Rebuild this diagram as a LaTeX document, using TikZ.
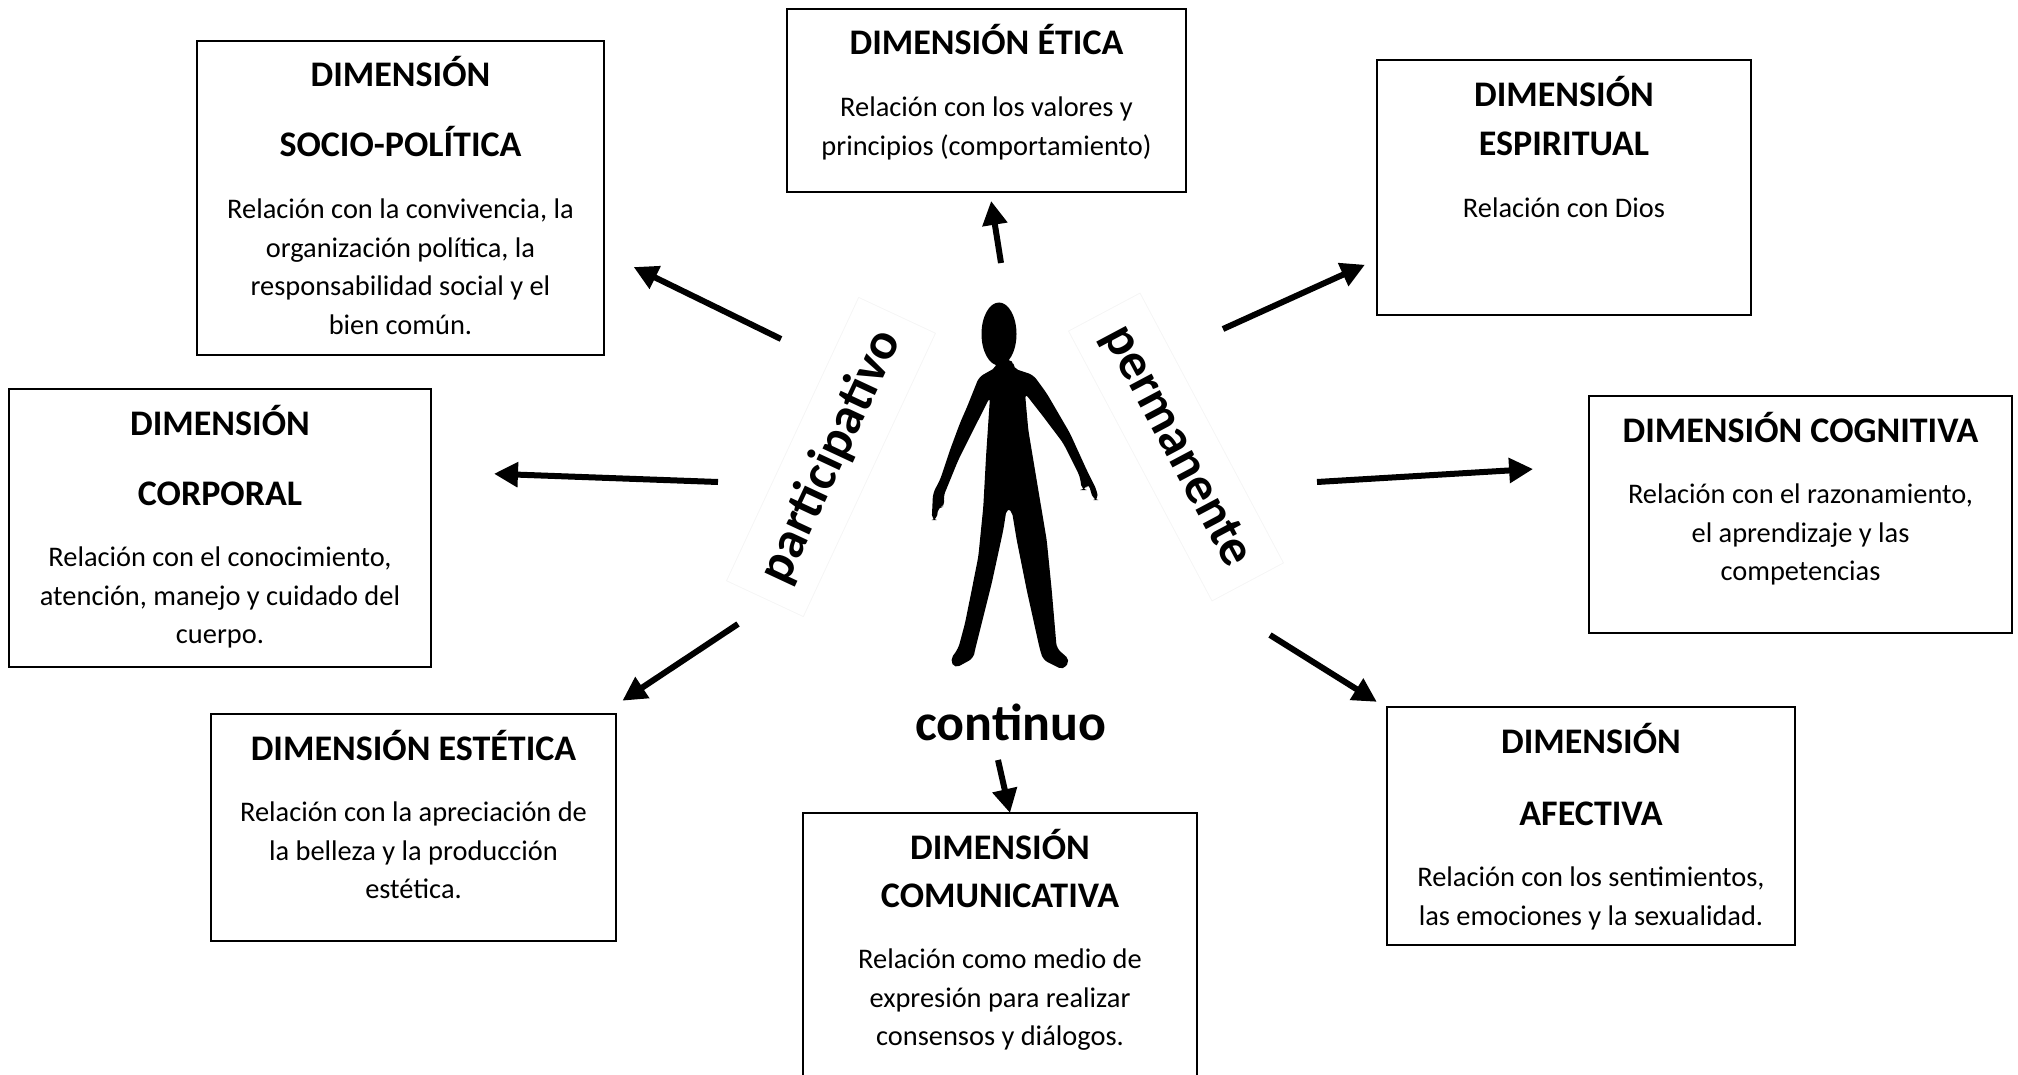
\documentclass[tikz,border=0pt]{standalone}
\usepackage{fontspec}
\setmainfont{Carlito}
\usetikzlibrary{arrows.meta}

% width, height, title line skip, title, body
\newcommand{\dimtexto}[5]{\begin{minipage}[c][#2][t]{#1}\centering
\fontsize{18}{#3}\selectfont\bfseries\rule{0pt}{23pt}#4\par
\vspace{11.5pt}
\fontsize{14.2}{19.3}\selectfont\mdseries #5\par
\end{minipage}}

\begin{document}
\begin{tikzpicture}[x=0.5pt,y=0.5pt,yscale=-1,xscale=1,
  caja/.style={draw, line width=0.6pt, inner sep=0pt, outer sep=0pt},
  flecha/.style={-{Triangle[length=12pt,width=12pt]}, line width=3pt},
  etiqueta/.style={font=\fontsize{26}{26}\selectfont\bfseries, draw=black!4, inner sep=10pt}]
\useasboundingbox (0,0) rectangle (2018,1075);

% Text Node
\node[caja] (socio) at (400.5,198) {\dimtexto{203.5pt}{157pt}{35pt}{DIMENSIÓN\\SOCIO-POLÍTICA}{Relación con la convivencia, la\\organización política, la\\responsabilidad social y el\\bien común.}};
% Text Node
\node[caja] (etica) at (986.5,100.5) {\dimtexto{199.5pt}{91.5pt}{24pt}{DIMENSIÓN ÉTICA}{Relación con los valores y\\principios (comportamiento)}};
% Text Node
\node[caja, line width=1.1pt] (espiritual) at (1564,187.5) {\dimtexto{187pt}{127.5pt}{25pt}{DIMENSIÓN\\ESPIRITUAL}{Relación con Dios}};
% Text Node
\node[caja] (corporal) at (220,528) {\dimtexto{211pt}{139pt}{35pt}{DIMENSIÓN\\CORPORAL}{Relación con el conocimiento,\\atención, manejo y cuidado del\\cuerpo.}};
% Text Node
\node[caja] (cognitiva) at (1800.5,514.5) {\dimtexto{211.5pt}{118.5pt}{24pt}{DIMENSIÓN COGNITIVA}{Relación con el razonamiento,\\el aprendizaje y las\\competencias}};
% Text Node
\node[caja] (estetica) at (413.5,827.5) {\dimtexto{202.5pt}{113.5pt}{24pt}{DIMENSIÓN ESTÉTICA}{Relación con la apreciación de\\la belleza y la producción\\estética.}};
% Text Node
\node[caja] (comunicativa) at (1000,956.5) {\dimtexto{197pt}{143.5pt}{24pt}{DIMENSIÓN\\COMUNICATIVA}{Relación como medio de\\expresión para realizar\\consensos y diálogos.}};
% Text Node
\node[caja] (afectiva) at (1591,826) {\dimtexto{204pt}{119pt}{36pt}{DIMENSIÓN\\AFECTIVA}{Relación con los sentimientos,\\las emociones y la sexualidad.}};

%Shape: Person
\fill (999,334) ellipse [x radius=17.5, y radius=31.5];
\fill[rounded corners=2.5] (996.7,360) -- (996.7,367) -- (979,377) -- (967,407) -- (960,423) -- (950,450) -- (940,480) -- (933,493) -- (931.7,520) -- (936.7,520) -- (938.3,506.7) -- (945,506.7) -- (943.3,496.7) -- (958.3,460) -- (973.3,430) -- (990,397) -- (986,457) -- (983.3,506.7) -- (978.3,556.7) -- (971.7,590) -- (965,623.3) -- (958.3,648.3) -- (950,660) -- (955,668.3) -- (973.3,658.3) -- (975,650) -- (981.7,623.3) -- (991.7,583.3) -- (1003.3,530) -- (1006.7,508.3) -- (1011.7,510) -- (1016.7,540) -- (1026.7,590) -- (1040,650) -- (1043.3,660) -- (1063.3,670) -- (1070,660) -- (1056.7,648.3) -- (1051.7,590) -- (1046.7,540) -- (1038.3,490) -- (1028.3,430) -- (1025,393.3) -- (1043.3,416.7) -- (1063.3,443.3) -- (1080,476.7) -- (1081.7,490) -- (1085,490) -- (1088.3,483) -- (1093.3,500) -- (1098.3,500) -- (1096.7,490) -- (1086.7,470) -- (1070,433.3) -- (1046.7,393.3) -- (1033.3,375) -- (1013.3,368.3) -- (1013.3,360) -- cycle;

% Text Node
\node[etiqueta, rotate=65] (participativo) at (831,457) {participativo};
% Text Node
\node[etiqueta, rotate=-62] (permanente) at (1176,447) {permanente};
% Text Node
\node[font=\fontsize{26}{26}\selectfont\bfseries] (continuo) at (1011,722) {continuo};

% Arrows
\coordinate (o1) at (781,339);
\coordinate (o2) at (1001,263);
\coordinate (o3) at (1223,329);
\coordinate (o4) at (718,482);
\coordinate (o5) at (1317,482);
\coordinate (o6) at (738,624);
\coordinate (o7) at (998,760);
\coordinate (o8) at (1270,635);
\draw[flecha, shorten >=16.5pt] (o1) -- (socio.-15.9);
\draw[flecha, shorten >=4.5pt] (o2) -- (etica.-88.1);
\draw[flecha, shorten >=6.6pt] (o3) -- (espiritual.-159.5);
\draw[flecha, shorten >=31.5pt] (o4) -- (corporal.15.6);
\draw[flecha, shorten >=28pt] (o5) -- (cognitiva.167.3);
\draw[flecha, shorten >=12pt] (o6) -- (estetica.31.5);
\draw[flecha] (o7) -- (comunicativa.86.8);
\draw[flecha, shorten >=6pt] (o8) -- (afectiva.150.5);

\end{tikzpicture}
\end{document}
